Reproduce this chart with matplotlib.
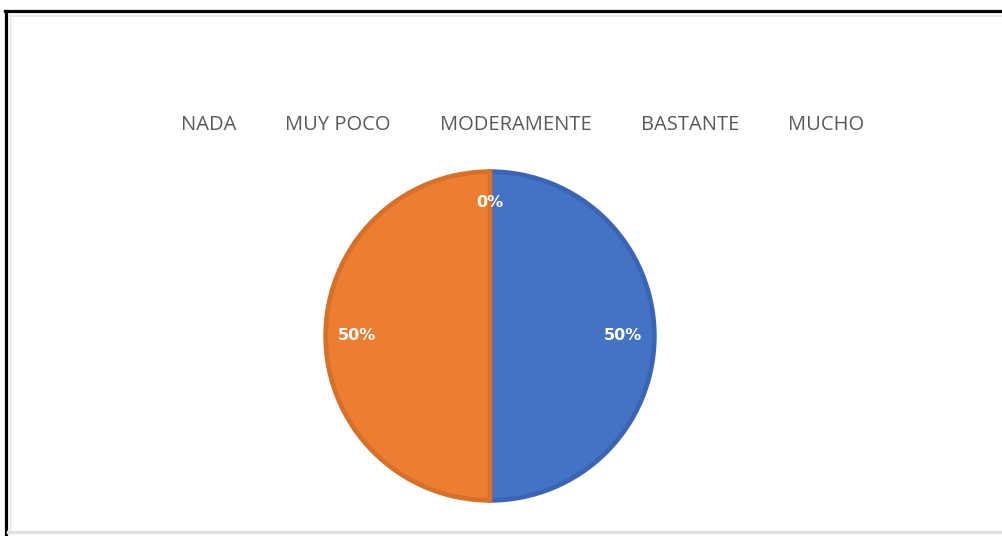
import matplotlib
matplotlib.use("Agg")
import matplotlib.pyplot as plt
from matplotlib.lines import Line2D

categories = ["NADA", "MUY POCO", "MODERAMENTE", "BASTANTE", "MUCHO"]
values = [50, 50, 0, 0, 0]
colors = ["#4472C4", "#ED7D31", "#A5A5A5", "#FFC000", "#5B9BD5"]
edge_colors = ["#3B65B4", "#D7702A", "#959595", "#E6AD00", "#4F8CC4"]

W, H = 1003, 536
fig = plt.figure(figsize=(W / 100, H / 100), dpi=100)
fig.patch.set_facecolor("white")

def fx(px):
    return px / W

def fy(py):
    return 1 - py / H

# frame lines (screenshot border)
fig.add_artist(Line2D([fx(6), fx(6)], [fy(11), fy(536)], color="black", lw=2.3, transform=fig.transFigure))
fig.add_artist(Line2D([fx(5), fx(1003)], [fy(11), fy(11)], color="black", lw=2.3, transform=fig.transFigure))
fig.add_artist(Line2D([fx(10), fx(10)], [fy(15), fy(530)], color="#E4E4E4", lw=1.0, transform=fig.transFigure))
fig.add_artist(Line2D([fx(10), fx(1003)], [fy(15.5), fy(15.5)], color="#E4E4E4", lw=1.2, transform=fig.transFigure))
fig.add_artist(Line2D([fx(8), fx(1003)], [fy(532), fy(532)], color="#E2E2E2", lw=2.5, transform=fig.transFigure))

# pie axes: center (490, 336) px, radius ~166 px
cx, cy, r = 490, 336, 166
ax = fig.add_axes([fx(cx - r), fy(cy + r), 2 * r / W, 2 * r / H])
wedges, texts, autotexts = ax.pie(
    values, colors=colors, startangle=90, counterclock=False,
    autopct="%1.0f%%", pctdistance=0.81, radius=0.99,
    wedgeprops=dict(linewidth=3.4, joinstyle="miter"),
    textprops=dict(color="white", fontsize=11.5, fontweight="bold", family="DejaVu Sans"),
)
seen_zero = False
for w, ec, v, t in zip(wedges, edge_colors, values, autotexts):
    w.set_edgecolor(ec)
    if v == 0:
        w.set_linewidth(0)
        if seen_zero:
            t.set_visible(False)
        seen_zero = True
ax.set_xlim(-1, 1)
ax.set_ylim(-1, 1)
ax.set_aspect("equal")
ax.axis("off")

# legend (text only, as in the reference)
legend_x = [209, 338, 516, 690, 826]
for name, x in zip(categories, legend_x):
    fig.text(fx(x), fy(125), name, ha="center", va="center", fontsize=14.5,
             color="#595959", family="Open Sans")

fig.savefig("out.png", dpi=100)
